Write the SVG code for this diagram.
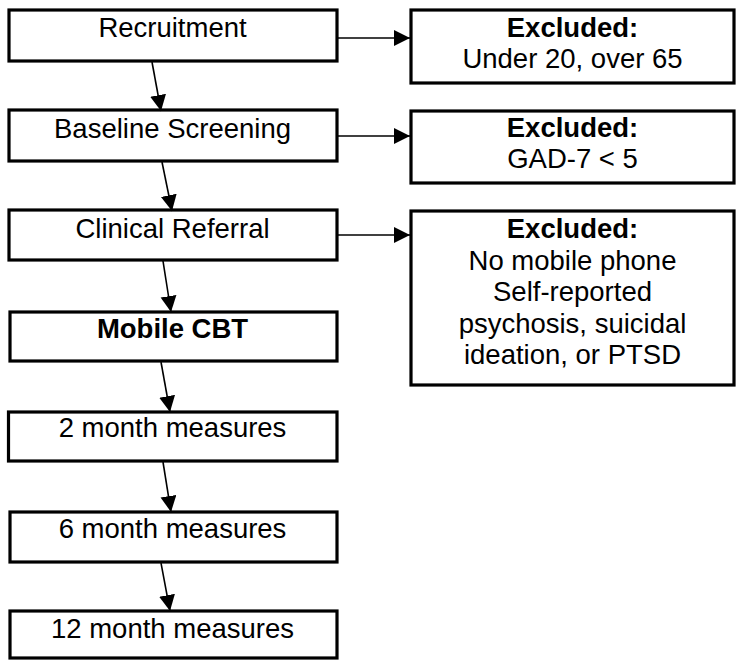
<svg xmlns="http://www.w3.org/2000/svg" width="736" height="660" viewBox="0 0 736 660">
<style>
.box{fill:#fff;stroke:#000;stroke-width:3.2}
.t{font-family:"Liberation Sans",Arial,sans-serif;font-size:27.5px;fill:#000;text-anchor:middle}
.b{font-weight:bold}
.c{stroke:#000;stroke-width:1.6;fill:none}
</style>
<defs>
<marker id="ah" markerUnits="userSpaceOnUse" markerWidth="17" markerHeight="17" refX="16" refY="8" orient="auto">
<path d="M0,0 L16,8 L0,16 z" fill="#000"/>
</marker>
</defs>
<rect width="736" height="660" fill="#fff"/>
<g id="recruitment"><rect class="box" x="9" y="10" width="328" height="51"/><text class="t" x="172.5" y="37">Recruitment</text></g>
<g id="baseline"><rect class="box" x="9" y="110" width="328" height="51"/><text class="t" x="172.5" y="138">Baseline Screening</text></g>
<g id="referral"><rect class="box" x="9" y="210" width="328" height="50"/><text class="t" x="172.5" y="238">Clinical Referral</text></g>
<g id="mcbt"><rect class="box" x="10" y="312" width="327" height="49"/><text class="t b" x="172.5" y="338">Mobile CBT</text></g>
<g id="m2"><rect class="box" x="8.5" y="412" width="328.5" height="49"/><text class="t" x="172.5" y="437">2 month measures</text></g>
<g id="m6"><rect class="box" x="10" y="512" width="327" height="50"/><text class="t" x="172.5" y="538">6 month measures</text></g>
<g id="m12"><rect class="box" x="10" y="611" width="327" height="47"/><text class="t" x="172.5" y="638">12 month measures</text></g>
<g id="ex1"><rect class="box" x="411" y="10" width="323" height="73"/><text class="t b" x="572.5" y="37">Excluded:</text><text class="t" x="572.5" y="68">Under 20, over 65</text></g>
<g id="ex2"><rect class="box" x="411" y="111" width="323" height="72"/><text class="t b" x="572.5" y="137">Excluded:</text><text class="t" x="572.5" y="168">GAD-7 &lt; 5</text></g>
<g id="ex3"><rect class="box" x="411" y="211" width="323" height="174"/><text class="t b" x="572.5" y="238">Excluded:</text><text class="t" x="572.5" y="269.5">No mobile phone</text><text class="t" x="572.5" y="301">Self-reported</text><text class="t" x="572.5" y="332.5">psychosis, suicidal</text><text class="t" x="572.5" y="364">ideation, or PTSD</text></g>
<g id="connectors">
<line class="c" x1="152" y1="62" x2="161" y2="111" marker-end="url(#ah)"/>
<line class="c" x1="162" y1="162" x2="172" y2="211" marker-end="url(#ah)"/>
<line class="c" x1="163" y1="261" x2="171" y2="312" marker-end="url(#ah)"/>
<line class="c" x1="161" y1="362" x2="170" y2="412" marker-end="url(#ah)"/>
<line class="c" x1="163" y1="462" x2="171" y2="512" marker-end="url(#ah)"/>
<line class="c" x1="161" y1="563" x2="170" y2="611" marker-end="url(#ah)"/>
<line class="c" x1="338" y1="38" x2="410" y2="38" marker-end="url(#ah)"/>
<line class="c" x1="338" y1="136" x2="410" y2="136" marker-end="url(#ah)"/>
<line class="c" x1="338" y1="235" x2="410" y2="235" marker-end="url(#ah)"/>
</g>
</svg>
